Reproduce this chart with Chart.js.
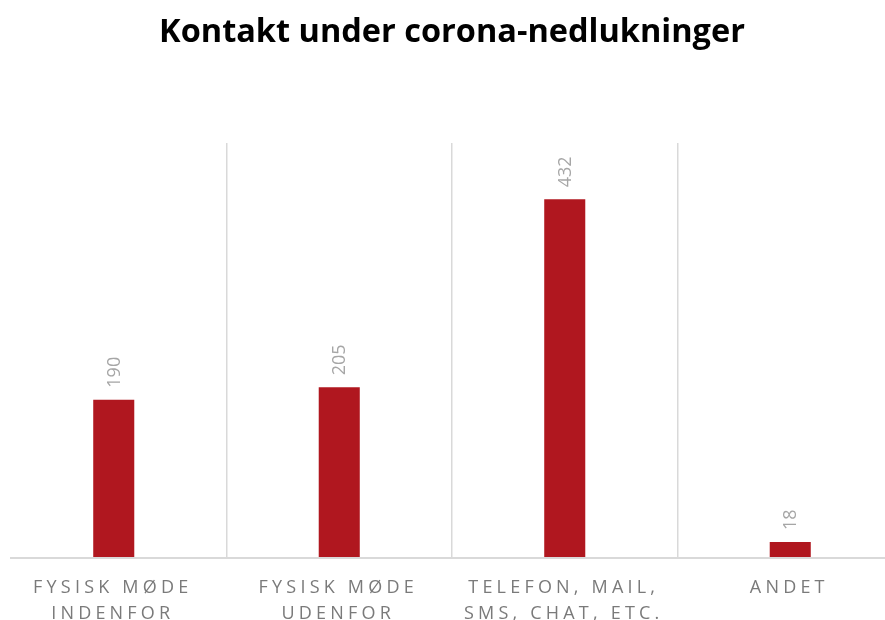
<!DOCTYPE html>
<html>
<head>
<meta charset="utf-8">
<script src="https://cdn.jsdelivr.net/npm/chart.js@4"></script>
<style>
  html, body { margin: 0; padding: 0; background: #fff; overflow: hidden; }
  #wrap { width: 903px; height: 620px; }
</style>
</head>
<body>
<div id="wrap"><canvas id="chart" width="903" height="620"></canvas></div>
<script>
// Kontakt under corona-nedlukninger
const categories = [
  ['FYSISK MØDE', 'INDENFOR'],
  ['FYSISK MØDE', 'UDENFOR'],
  ['TELEFON, MAIL,', 'SMS, CHAT, ETC.'],
  ['ANDET']
];
const values = [190, 205, 432, 18];
const yMax = 500;

const Colors = {
  bar: '#B0171F',
  grid: '#D9D9D9',
  label: '#A6A6A6',
  tick: '#7A7A7A',
  title: '#000000'
};
const FONT = "'Open Sans', sans-serif";

// value labels turned 90 degrees above each bar
const valueLabels = {
  id: 'valueLabels',
  afterDatasetsDraw(chart) {
    const ctx = chart.ctx;
    const meta = chart.getDatasetMeta(0);
    ctx.save();
    ctx.fillStyle = Colors.label;
    ctx.font = '18px ' + FONT;
    ctx.textAlign = 'left';
    ctx.textBaseline = 'middle';
    meta.data.forEach((bar, i) => {
      ctx.save();
      ctx.translate(bar.x + 1, bar.y - 12);
      ctx.rotate(-Math.PI / 2);
      ctx.fillText(String(values[i]), 0, 0);
      ctx.restore();
    });
    ctx.restore();
  }
};

// baseline + spaced category labels
const axisDecor = {
  id: 'axisDecor',
  beforeDatasetsDraw(chart) {
    const ctx = chart.ctx;
    const y = chart.scales.y.getPixelForValue(0);
    ctx.save();
    ctx.strokeStyle = Colors.grid;
    ctx.lineWidth = 2;
    ctx.beginPath();
    ctx.moveTo(10, y + 1);
    ctx.lineTo(chart.chartArea.right, y + 1);
    ctx.stroke();
    ctx.restore();
  },
  afterDraw(chart) {
    const ctx = chart.ctx;
    const xs = chart.scales.x;
    const top = chart.chartArea.bottom;
    ctx.save();
    ctx.fillStyle = Colors.tick;
    ctx.font = '18px ' + FONT;
    ctx.letterSpacing = '4.2px';
    ctx.textAlign = 'center';
    ctx.textBaseline = 'middle';
    categories.forEach((lines, i) => {
      const x = xs.getPixelForValue(i) - 1;
      lines.forEach((line, j) => {
        ctx.fillText(line, x, top + 31 + j * 26);
      });
    });
    ctx.restore();
  }
};

new Chart(document.getElementById('chart'), {
  type: 'bar',
  data: {
    labels: categories,
    datasets: [{
      data: values,
      backgroundColor: Colors.bar,
      borderWidth: 0,
      categoryPercentage: 1,
      barPercentage: 0.182
    }]
  },
  options: {
    responsive: false,
    devicePixelRatio: 1,
    animation: false,
    layout: { padding: { left: 1, right: 0, top: 0, bottom: 63 } },
    plugins: {
      legend: { display: false },
      tooltip: { enabled: false },
      title: {
        display: true,
        text: 'Kontakt under corona-nedlukninger',
        color: Colors.title,
        font: { family: FONT, size: 32.5, weight: 'bold', lineHeight: 1.2 },
        padding: { top: 13, bottom: 91 }
      }
    },
    scales: {
      x: {
        offset: true,
        border: { display: false },
        ticks: { display: false },
        grid: {
          offset: true,
          drawTicks: false,
          lineWidth: 1.5,
          color: ctx => ctx.index === 0 ? 'rgba(0,0,0,0)' : Colors.grid
        }
      },
      y: {
        display: false,
        min: 0,
        max: yMax
      }
    }
  },
  plugins: [valueLabels, axisDecor]
});
</script>
</body>
</html>
